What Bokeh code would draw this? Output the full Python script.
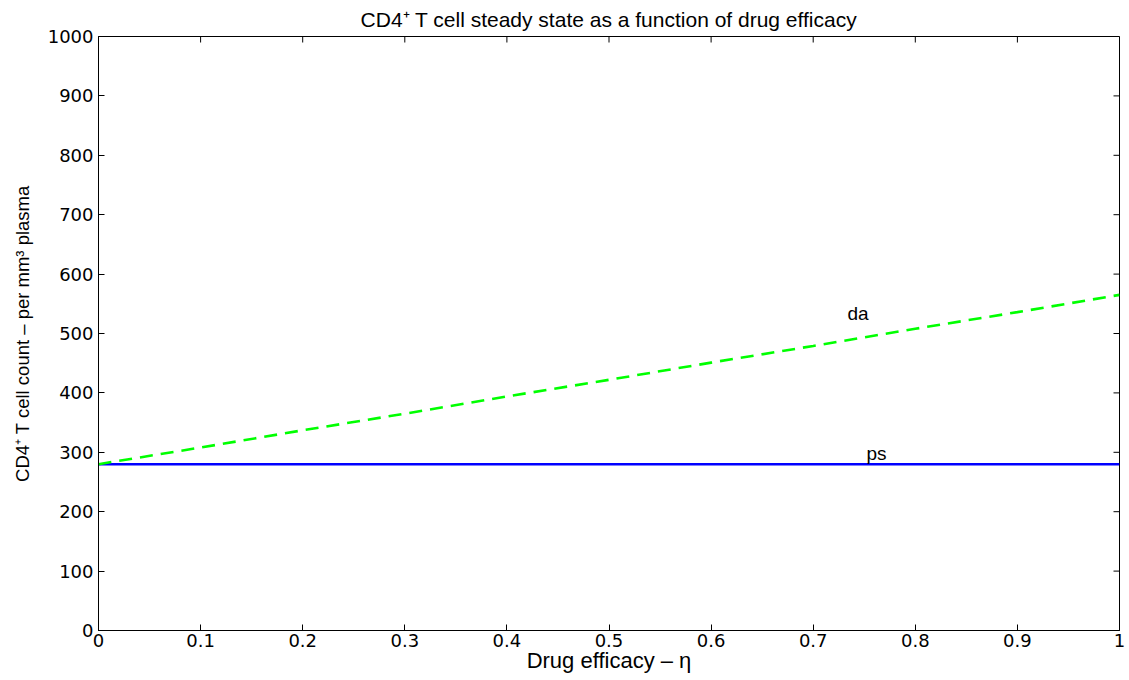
from bokeh.plotting import figure
from bokeh.models import Range1d, FixedTicker, Label
from bokeh.embed import file_html
from bokeh.resources import INLINE

eta = [0.0, 0.1, 0.2, 0.3, 0.4, 0.5, 0.6, 0.7, 0.8, 0.9, 1.0]
ps = [280, 280, 280, 280, 280, 280, 280, 280, 280, 280, 280]
da = [280, 308, 337, 365, 394, 422, 451, 479, 508, 536, 565]
x_ticks = [0, 0.1, 0.2, 0.3, 0.4, 0.5, 0.6, 0.7, 0.8, 0.9, 1]
y_ticks = [0, 100, 200, 300, 400, 500, 600, 700, 800, 900, 1000]

FONT = "Liberation Sans"
TICKFONT = "DejaVu Sans"
X0, X1, Y0, Y1 = 0, 1, 0, 1000
FRAME_W, FRAME_H = 1021, 594
TICK_PX = 6

p = figure(width=1129, height=680, output_backend="svg", toolbar_location=None,
           x_range=Range1d(X0, X1), y_range=Range1d(Y0, Y1),
           min_border_left=98, min_border_right=10, min_border_top=36, min_border_bottom=50)
p.title.text = "CD4\u207a T cell steady state as a function of drug efficacy"
p.title.align = "center"
p.title.text_font = FONT
p.title.text_font_style = "normal"
p.title.text_font_size = "21px"
p.title.text_color = "black"
p.title.standoff = 11
p.xgrid.visible = False
p.ygrid.visible = False
p.outline_line_color = "black"
p.outline_line_width = 1
p.background_fill_color = "white"
p.border_fill_color = "white"

p.xaxis.ticker = FixedTicker(ticks=x_ticks)
p.yaxis.ticker = FixedTicker(ticks=y_ticks)
p.xaxis.axis_label = "Drug efficacy \u2013 \u03b7"
p.yaxis.axis_label = "CD4\u207a T cell count \u2013 per mm\u00b3 plasma"
for ax in (p.xaxis[0], p.yaxis[0]):
    ax.major_tick_in = TICK_PX
    ax.major_tick_out = 0
    ax.minor_tick_in = 0
    ax.minor_tick_out = 0
    ax.axis_line_color = "black"
    ax.major_tick_line_color = "black"
    ax.major_label_text_font = TICKFONT
    ax.major_label_text_font_size = "18px"
    ax.major_label_text_color = "black"
    ax.axis_label_text_font = FONT
    ax.axis_label_text_font_style = "normal"
    ax.axis_label_text_color = "black"
p.xaxis.axis_label_text_font_size = "22px"
p.yaxis.axis_label_text_font_size = "18.5px"
p.xaxis.major_label_standoff = 3
p.yaxis.major_label_standoff = 5
p.xaxis.axis_label_standoff = -2
p.yaxis.axis_label_standoff = 12

# inward ticks on the top and right edges of the box
dy = TICK_PX * (Y1 - Y0) / FRAME_H
dx = TICK_PX * (X1 - X0) / FRAME_W
p.segment(x0=x_ticks, y0=[Y1] * len(x_ticks), x1=x_ticks, y1=[Y1 - dy] * len(x_ticks),
          line_color="black", line_width=1)
p.segment(x0=[X1] * len(y_ticks), y0=y_ticks, x1=[X1 - dx] * len(y_ticks), y1=y_ticks,
          line_color="black", line_width=1)

p.line(eta, ps, line_color="#0000ff", line_width=2.6)
p.line(eta, da, line_color="#00ff00", line_width=2.6, line_dash="13 8")

p.add_layout(Label(x=0.744, y=533, text="da", text_font=FONT, text_font_size="19px",
                   text_color="black", text_align="center", text_baseline="middle"))
p.add_layout(Label(x=0.762, y=298, text="ps", text_font=FONT, text_font_size="19px",
                   text_color="black", text_align="center", text_baseline="middle"))

open("out.html", "w").write(file_html(p, INLINE))
